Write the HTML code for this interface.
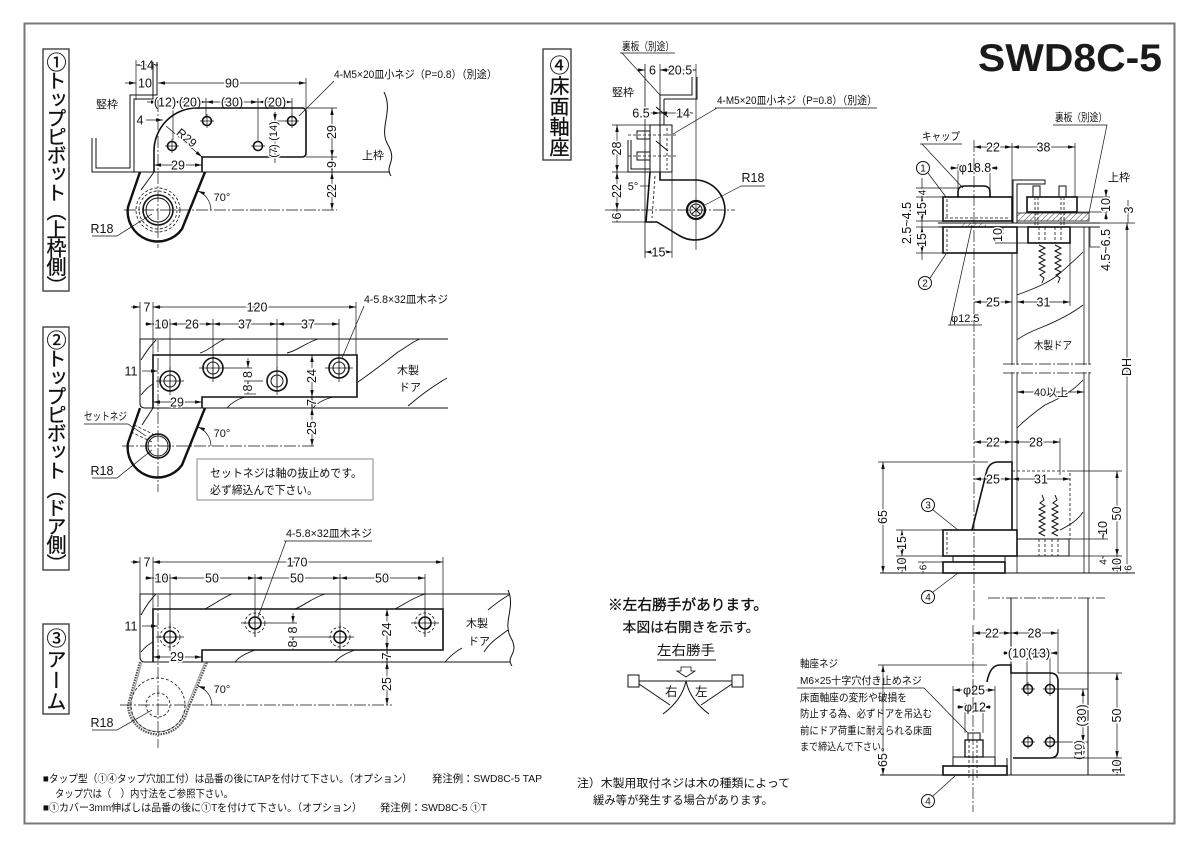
<!DOCTYPE html>
<html><head><meta charset="utf-8">
<style>
html,body{margin:0;padding:0;background:#fff;}
body{width:1200px;height:848px;position:relative;overflow:hidden;}
svg{position:absolute;left:0;top:0;}
.v{position:absolute;writing-mode:vertical-rl;font-family:"Noto Sans CJK JP","WenQuanYi Zen Hei",sans-serif;color:#111;font-size:20px;line-height:26px;text-align:start;white-space:nowrap;-webkit-text-stroke:0.3px #111;}
</style></head><body>
<svg width="1200" height="848" viewBox="0 0 1200 848" xmlns="http://www.w3.org/2000/svg">
<defs>
<marker id="a" viewBox="0 0 8 4" markerWidth="7" markerHeight="3.5" refX="8" refY="2" orient="auto-start-reverse" markerUnits="userSpaceOnUse"><path d="M0,0L8,2L0,4z" fill="#111"/></marker>
<pattern id="hp" width="4" height="4" patternUnits="userSpaceOnUse" patternTransform="rotate(45)"><line x1="0" y1="0" x2="0" y2="4" stroke="#111" stroke-width="0.8"/></pattern>
</defs>
<style>
.l{stroke:#111;stroke-width:1;fill:none}
.h{stroke:#111;stroke-width:1.6;fill:none}
.k{stroke:#111;stroke-width:2.4;fill:none}
.d{stroke:#111;stroke-width:.7;fill:none}
.c{stroke:#111;stroke-width:.7;fill:none;stroke-dasharray:12 2 2 2}
.s{stroke:#111;stroke-width:.8;fill:none;stroke-dasharray:3 2}
.b{marker-start:url(#a);marker-end:url(#a)}
.e{marker-end:url(#a)}
.n{font-family:"Liberation Sans Narrow","Liberation Sans",sans-serif;font-size:12.5px;fill:#111;stroke:#fff;stroke-width:3;paint-order:stroke;text-anchor:middle}
.j{font-family:"Liberation Sans","Noto Sans CJK JP",sans-serif;font-size:11px;fill:#111}
.jh{font-family:"Liberation Sans","Noto Sans CJK JP",sans-serif;font-size:11px;fill:#111;stroke:#fff;stroke-width:3;paint-order:stroke}
.cn{font-family:"Liberation Sans",sans-serif;font-size:10px;fill:#111;text-anchor:middle}
</style>

<!-- outer border -->
<rect x="24.5" y="23.5" width="1150" height="800" fill="none" stroke="#777" stroke-width="2"/>

<!-- side label boxes -->
<rect x="43" y="49" width="26" height="242" fill="none" stroke="#333" stroke-width="1.3"/>
<rect x="43" y="327" width="26" height="243" fill="none" stroke="#333" stroke-width="1.3"/>
<rect x="43" y="624" width="26" height="90" fill="none" stroke="#333" stroke-width="1.3"/>
<rect x="543" y="49" width="28" height="111" fill="none" stroke="#333" stroke-width="1.3"/>

<!-- title -->
<text x="978" y="71" font-family="Liberation Sans, sans-serif" font-weight="bold" font-size="39" textLength="184" lengthAdjust="spacingAndGlyphs" fill="#1a1a1a">SWD8C-5</text>

<!-- ================= SECTION 1 ================= -->
<g>
<path class="d" d="M136,60V100M306,78V108M173,98V140M206,98V118M258,98V142M292,98V118"/>
<path class="d b" d="M136,65H158"/><text class="n" x="147" y="69.5">14</text>
<path class="d e" d="M125,83H136"/><text class="n" x="145" y="87.5">10</text>
<path class="d b" d="M158,83H306"/><text class="n" x="232" y="87.5">90</text>
<path class="d e" d="M147,102H158"/>
<path class="d b" d="M173,102H206"/><path class="d b" d="M206,102H258"/><path class="d b" d="M258,102H292"/>
<text class="n" x="165" y="106.5">(12)</text><text class="n" x="190" y="106.5">(20)</text><text class="n" x="232" y="106.5">(30)</text><text class="n" x="275" y="106.5">(20)</text>
<path class="d e" d="M146,120H163"/><text class="n" x="140" y="124.5">4</text>
<text class="j" x="96" y="108" textLength="22" lengthAdjust="spacingAndGlyphs">竪枠</text>
<path class="l" d="M92,138V172H134V99H153V62"/>
<path class="l" d="M96,138V168H130V95H157V62"/>
<path class="l" d="M134,172H390"/>
<path class="d" d="M306,108H337M306,157H337"/>
<path class="l" d="M384,92C394,112 378,128 388,145S384,165 391,176"/>
<text class="j" x="362" y="159">上枠</text>
<path class="h" d="M154,172V151A43,43 0 0 1 197,108H302Q306,108 306,112V153Q306,157 302,157H202V172"/>
<circle cx="207" cy="121" r="4.5" class="h"/><circle cx="172" cy="146" r="4.5" class="h"/><circle cx="258" cy="146" r="4.5" class="h"/><circle cx="292" cy="121" r="4.5" class="h"/>
<path class="d" d="M200,121H214M207,114V128M165,146H179M172,139V153M251,146H265M292,114V128M285,121H299"/>
<path class="d" d="M275,112V163"/><path class="d e" d="M275,112V121"/><path class="d e" d="M275,160V146"/><path class="d" d="M271,121H286"/>
<text class="n" transform="translate(273,131)rotate(-90)" y="4" style="font-size:11px">(14)</text>
<text class="n" transform="translate(273,151)rotate(-90)" y="4" style="font-size:11px">(7)</text>
<path class="k" d="M140,172L128,207A30,30 0 0 0 182,229L205,172"/>
<path class="l" d="M154,172L141,190"/>
<circle cx="158" cy="210" r="15" class="h"/><circle cx="158" cy="210" r="12" class="l"/>
<circle cx="158" cy="210" r="22" class="s"/><circle cx="158" cy="210" r="19" class="s"/>
<path class="c" d="M158,100V248M124,210H337"/>
<path class="d b" d="M332,108V157"/><path class="d b" d="M332,157V172"/><path class="d b" d="M332,172V210"/>
<text class="n" transform="translate(332,132)rotate(-90)" y="4">29</text>
<text class="n" transform="translate(332,164.5)rotate(-90)" y="4">9</text>
<text class="n" transform="translate(332,191)rotate(-90)" y="4">22</text>
<path class="d b" d="M154,165H202"/><text class="n" x="178" y="169.5">29</text>
<path class="d e" d="M211,210A21,21 0 0 0 198,191"/><text class="n" x="222" y="201" style="font-size:11px">70°</text>
<path class="d e" d="M166,126L202,157"/>
<text class="n" transform="translate(184,141)rotate(40)" style="font-size:12px">R29</text>
<text class="n" x="102" y="233">R18</text>
<path class="d" d="M92,236H117L152,214"/>
<text class="j" x="334" y="78" textLength="163" lengthAdjust="spacingAndGlyphs">4-M5×20皿小ネジ（P=0.8）（別途）</text>
<path class="d" d="M334,81L299,116"/>
</g>

<!-- ================= SECTION 2 ================= -->
<g>
<path class="d" d="M140,302V339M153,302V355M356,302V355M170,319V392M213,319V378M277,319V392M339,319V378"/>
<path class="d e" d="M131,307H140"/><path class="d e" d="M162,307H153"/><text class="n" x="147" y="311.5">7</text>
<path class="d b" d="M153,307H356"/><text class="n" x="257" y="311.5">120</text>
<path class="d e" d="M145,324H153"/>
<path class="d b" d="M153,324H170"/><path class="d b" d="M170,324H213"/><path class="d b" d="M213,324H277"/><path class="d b" d="M277,324H339"/>
<text class="n" x="161.5" y="328.5">10</text><text class="n" x="192" y="328.5">26</text><text class="n" x="245" y="328.5">37</text><text class="n" x="308" y="328.5">37</text>
<path class="l" d="M448,339H140V403Q140,408 145,408H448"/>
<path class="l" style="stroke-width:.9" d="M141,360C146,352 150,346 156,340M200,353C210,350 215,343 225,339M287,353C297,351 305,343 318,339M358,382C372,372 388,360 398,352C408,346 412,342 420,339M408,406C420,396 430,388 447,378M227,408C232,402 238,399 245,397M313,408C318,402 325,399 333,397M141,395C145,390 149,386 153,384"/>
<path class="h" d="M153,408V355H357V397H202V408"/>
<circle cx="170" cy="381" r="10" class="h"/><circle cx="170" cy="381" r="6" class="l"/>
<circle cx="213" cy="368" r="10" class="h"/><circle cx="213" cy="368" r="6" class="l"/>
<circle cx="277" cy="381" r="10" class="h"/><circle cx="277" cy="381" r="6" class="l"/>
<circle cx="339" cy="368" r="10" class="h"/><circle cx="339" cy="368" r="6" class="l"/>
<path class="d" d="M156,381H184M170,367V395M199,368H252M213,354V382M263,381H244M277,367V395M325,368H353M339,354V382"/>
<path class="d e" d="M142,371H158"/><text class="n" x="131" y="375.5">11</text>
<path class="d e" d="M248,358V368"/><path class="d e" d="M248,394V381"/><path class="d" d="M244,394H256"/>
<text class="n" transform="translate(248,374.5)rotate(-90)" y="4">8</text>
<text class="n" transform="translate(248,388)rotate(-90)" y="4">8</text>
<path class="d b" d="M312,355V397"/><path class="d b" d="M312,397V408"/><path class="d b" d="M312,408V446"/>
<text class="n" transform="translate(312,376)rotate(-90)" y="4">24</text>
<text class="n" transform="translate(312,402.5)rotate(-90)" y="4">7</text>
<text class="n" transform="translate(312,428)rotate(-90)" y="4">25</text>
<path class="d b" d="M153,402H202"/><text class="n" x="177" y="406.5">29</text>
<path class="s" d="M153,408H202"/>
<path class="k" d="M140,408L128,443A30,30 0 0 0 182,465L205,408"/>
<path class="l" d="M153,408L142,425"/>
<circle cx="158" cy="446" r="12" class="h"/><circle cx="158" cy="446" r="10" class="l"/>
<path class="s" d="M131,432L152,442M134,425L155,435"/>
<path class="c" d="M158,340V492M122,446H316"/>
<path class="d e" d="M211,446A21,21 0 0 0 198,427"/><text class="n" x="222" y="437" style="font-size:11px">70°</text>
<text class="j" x="84" y="420" textLength="43" lengthAdjust="spacingAndGlyphs">セットネジ</text>
<path class="d" d="M84,424H128L146,436"/>
<text class="n" x="102" y="475">R18</text>
<path class="d" d="M92,478H117L152,450"/>
<rect x="197" y="459" width="176" height="41" fill="none" stroke="#888" stroke-width="1"/>
<text class="j" x="210" y="477" style="font-size:11.5px" textLength="152" lengthAdjust="spacingAndGlyphs">セットネジは軸の抜止めです。</text>
<text class="j" x="210" y="494" style="font-size:11.5px" textLength="108" lengthAdjust="spacingAndGlyphs">必ず締込んで下さい。</text>
<text class="j" x="364" y="303" textLength="84" lengthAdjust="spacingAndGlyphs">4-5.8×32皿木ネジ</text>
<path class="d" d="M364,306L342,358"/>
<text class="j" x="397" y="374">木製</text>
<text class="j" x="399" y="391">ドア</text>
</g>

<!-- ================= SECTION 3 ================= -->
<g>
<path class="d" d="M140,557V594M153,557V609M443,557V609M170,574V651M255,574V637M340,574V651M425,574V637"/>
<path class="d e" d="M131,562H140"/><path class="d e" d="M162,562H153"/><text class="n" x="147" y="566.5">7</text>
<path class="d b" d="M153,562H443"/><text class="n" x="297" y="566.5">170</text>
<path class="d e" d="M145,578H153"/>
<path class="d b" d="M153,578H170"/><path class="d b" d="M170,578H255"/><path class="d b" d="M255,578H340"/><path class="d b" d="M340,578H425"/>
<text class="n" x="161.5" y="582.5">10</text><text class="n" x="212" y="582.5">50</text><text class="n" x="297" y="582.5">50</text><text class="n" x="382" y="582.5">50</text>
<path class="l" d="M510,594H140V657Q140,662 145,662H510"/>
<path class="l" d="M508,590C516,608 502,622 511,638S505,656 512,666"/>
<path class="l" style="stroke-width:.9" d="M141,615C146,606 150,600 156,594M205,609C215,604 222,598 232,594M295,609C305,605 312,598 325,594M395,609C405,604 412,598 425,594M488,610C495,604 502,599 509,595M235,662C240,656 247,653 255,650M335,662C340,656 347,653 355,650M445,662C450,656 455,652 462,648M484,652C490,642 500,636 508,630M141,652C145,647 149,644 153,642"/>
<path class="h" d="M153,662V609H443V650H202V662"/>
<circle cx="170" cy="637" r="10" class="s"/><circle cx="170" cy="637" r="6" class="h"/>
<circle cx="255" cy="623" r="10" class="s"/><circle cx="255" cy="623" r="6" class="h"/>
<circle cx="340" cy="637" r="10" class="s"/><circle cx="340" cy="637" r="6" class="h"/>
<circle cx="425" cy="623" r="10" class="s"/><circle cx="425" cy="623" r="6" class="h"/>
<path class="d" d="M156,637H184M170,623V651M241,623H297M255,609V637M354,637H289M340,623V651M411,623H439M425,609V637"/>
<path class="d e" d="M142,626H158"/><text class="n" x="131" y="630.5">11</text>
<path class="d e" d="M293,613V623"/><path class="d e" d="M293,650V637"/>
<text class="n" transform="translate(293,630)rotate(-90)" y="4">8</text>
<text class="n" transform="translate(293,644)rotate(-90)" y="4">8</text>
<path class="d b" d="M387,609V650"/><path class="d b" d="M387,650V662"/><path class="d b" d="M387,662V705"/>
<text class="n" transform="translate(387,629.5)rotate(-90)" y="4">24</text>
<text class="n" transform="translate(387,656)rotate(-90)" y="4">7</text>
<text class="n" transform="translate(387,684)rotate(-90)" y="4">25</text>
<path class="d b" d="M153,657H202"/><text class="n" x="177" y="661">29</text>
<path d="M140,662L128,705A30,30 0 0 0 187,712L207,662" stroke="#555" stroke-width="2.2" stroke-dasharray="1.6 1" fill="none"/>
<path d="M142,662L130,705A28,28 0 0 0 185,711L205,662" stroke="#999" stroke-width="1" fill="none"/>
<circle cx="158" cy="705" r="27" class="s"/><circle cx="158" cy="705" r="12" class="s"/>
<path class="c" d="M158,595V748M120,705H392"/>
<path class="d e" d="M212,705A21,21 0 0 0 198,686"/><text class="n" x="222" y="693" style="font-size:11px">70°</text>
<text class="n" x="102" y="727">R18</text>
<path class="d" d="M92,730H117L152,710"/>
<text class="j" x="286" y="537" textLength="86" lengthAdjust="spacingAndGlyphs">4-5.8×32皿木ネジ</text>
<path class="d" d="M284,541H372M286,541L258,617"/>
<text class="j" x="466" y="627">木製</text>
<text class="j" x="468" y="645">ドア</text>
</g>

<!-- bottom notes -->
<text class="j" x="43" y="782" style="font-size:10.5px" textLength="369" lengthAdjust="spacingAndGlyphs">■タップ型（①④タップ穴加工付）は品番の後にTAPを付けて下さい。（オプション）</text>
<text class="j" x="432" y="782" style="font-size:10.5px" textLength="110" lengthAdjust="spacingAndGlyphs">発注例：SWD8C-5 TAP</text>
<text class="j" x="55" y="797" style="font-size:10.5px" textLength="178" lengthAdjust="spacingAndGlyphs">タップ穴は（　）内寸法をご参照下さい。</text>
<text class="j" x="43" y="811" style="font-size:10.5px" textLength="319" lengthAdjust="spacingAndGlyphs">■①カバー3mm伸ばしは品番の後に①Tを付けて下さい。（オプション）</text>
<text class="j" x="380" y="811" style="font-size:10.5px" textLength="107" lengthAdjust="spacingAndGlyphs">発注例：SWD8C-5 ①T</text>

<!-- ================= SECTION 4 ================= -->
<g>
<text class="j" x="622" y="50" textLength="52" lengthAdjust="spacingAndGlyphs">裏板（別途）</text>
<path class="d" d="M620,53H675M622,53L660,95"/>
<path class="l" style="stroke-width:.8" d="M645,64V258"/>
<path class="d" d="M660,64V95M696,64V250"/>
<path class="d e" d="M637,70H645"/><path class="d e" d="M668,70H660"/><text class="n" x="652.5" y="74.5">6</text>
<path class="d b" d="M660,70H696"/><text class="n" x="680" y="74.5">20.5</text>
<text class="j" x="612" y="96" textLength="22" lengthAdjust="spacingAndGlyphs">竪枠</text>
<path class="l" d="M660,95H692V77M664,99H697V77"/>
<path class="l" d="M660,95V172M664,99V125"/>
<rect x="650" y="125" width="22" height="47" class="l"/>
<rect x="637" y="131" width="13" height="8" class="l"/><rect x="637" y="152" width="13" height="8" class="l"/>
<path class="s" d="M628,135H678M628,156H678M667,128V170"/>
<path class="l" d="M656,107L668,117M656,141L668,151"/>
<path class="l" d="M628,140V172H650M631,140V169H650"/>
<path class="d e" d="M649,113H660"/><text class="n" x="641" y="117.5">6.5</text>
<path class="d b" d="M660,113H693"/><text class="n" x="683" y="117.5">14</text>
<path class="d" d="M612,125H650M612,172H628M612,210H640M612,222H647"/>
<path class="d b" d="M617,125V172"/><path class="d b" d="M617,172V210"/><path class="d b" d="M617,210V222"/>
<text class="n" transform="translate(617,148.5)rotate(-90)" y="4">28</text>
<text class="n" transform="translate(617,191)rotate(-90)" y="4">22</text>
<text class="n" transform="translate(617,216)rotate(-90)" y="4">6</text>
<path class="h" d="M650,172L646,222H657L680,236A30,30 0 1 0 696,180H660V172"/>
<path class="s" d="M655,176L652,218"/>
<circle cx="696" cy="210" r="9" class="k" style="stroke-width:2.2"/><circle cx="696" cy="210" r="6" class="l"/>
<path class="l" d="M692,206L700,214M700,206L692,214"/>
<path class="c" d="M605,210H735"/>
<path class="d" d="M672,172V258"/>
<path class="d b" d="M645,252H672"/><text class="n" x="658.5" y="256.5">15</text>
<text class="n" x="753" y="182">R18</text>
<path class="d" d="M741,186H765M741,186L705,205"/>
<text class="n" x="633" y="190" style="font-size:11px">5°</text>
<path class="d" d="M640,186L650,186"/>
<text class="j" x="717" y="104" textLength="160" lengthAdjust="spacingAndGlyphs">4-M5×20皿小ネジ（P=0.8）（別途）</text>
<path class="d" d="M715,108H877M717,108L673,134"/>
</g>

<!-- ================= RIGHT TOP ================= -->
<g>
<text class="j" x="1055" y="121" textLength="52" lengthAdjust="spacingAndGlyphs">裏板（別途）</text>
<path class="d" d="M1053,125H1107L1089,213"/>
<text class="j" x="922" y="140" textLength="38" lengthAdjust="spacingAndGlyphs">キャップ</text>
<path class="d" d="M920,144H962M922,144L963,188"/>
<circle cx="923" cy="168" r="6.5" class="l"/><text class="cn" x="923" y="171.5">1</text>
<path class="d" d="M928,173L946,197"/>
<path class="d" d="M1012,143V223M1075,143V197"/>
<path class="d b" d="M974,147H1012"/><text class="n" x="993" y="151.5">22</text>
<path class="d b" d="M1012,147H1075"/><text class="n" x="1043.5" y="151.5">38</text>
<path class="d" d="M958,164V192M990,164V192"/>
<path class="d e" d="M950,168H958"/><path class="d e" d="M998,168H990"/>
<text class="n" x="975" y="172">φ18.8</text>
<path class="h" d="M958,197V192Q958,186 965,186H983Q990,186 990,192V197"/>
<rect x="943" y="197" width="69" height="24" class="h"/>
<path class="s" d="M947,199V219M945,218H1010"/>
<path class="l" d="M1013,223V180H1045V184H1017V223"/>
<rect x="1027" y="197" width="50" height="15" class="h"/>
<rect x="1033" y="186" width="7" height="11" class="l"/><rect x="1059" y="186" width="7" height="11" class="l"/>
<path class="s" d="M1035,197V227M1038,197V227M1061,197V227M1064,197V227"/>
<rect x="1017" y="213" width="72" height="8" fill="url(#hp)" stroke="#111" stroke-width=".8"/>
<rect x="962" y="223" width="24" height="4" fill="url(#hp)" stroke="none"/>
<path class="l" d="M938,223H1100M938,227H1100"/>
<rect x="943" y="227" width="74" height="26" class="h"/>
<path class="s" d="M947,229V251"/>
<rect x="1028" y="227" width="42" height="16" class="h"/>
<path class="s" d="M1039,227V243M1045,227V243M1055,227V243M1061,227V243"/>
<path class="l" d="M1039,245L1045,248L1039,251L1045,254L1039,257L1045,260L1039,263L1045,266L1039,269L1045,272L1040,275L1044,278L1042,283M1055,245L1061,248L1055,251L1061,254L1055,257L1061,260L1055,263L1061,266L1055,269L1061,272L1056,275L1060,278L1058,283"/>
<path class="l" style="stroke-width:.8" d="M1012,253V530M1017,253V573M1084,227V573M1089,227V573"/>
<path class="l" style="stroke-width:.8" d="M1083,252C1075,260 1068,266 1058,275C1045,285 1030,290 1017,295M1083,305C1070,315 1055,322 1040,328C1030,332 1022,336 1017,340M1083,380C1072,392 1060,398 1045,405C1035,412 1025,420 1017,428M1083,512C1078,520 1070,525 1060,530"/>
<rect x="998" y="365" width="100" height="7" fill="#fff"/>
<path class="c" d="M1003,364H1093M1003,373H1093"/>
<path class="d" d="M916,188H958M916,197H943M916,221H943M916,227H943M916,253H943"/>
<path class="d" d="M922,178V260"/>
<path class="d b" d="M922,197V221"/><path class="d b" d="M922,227V253"/>
<text class="n" transform="translate(922,192.5)rotate(-90)" y="3.5" style="font-size:10px">4</text>
<text class="n" transform="translate(922,209)rotate(-90)" y="4">15</text>
<text class="n" transform="translate(922,240)rotate(-90)" y="4">15</text>
<text class="n" transform="translate(907,223)rotate(-90)" y="4">2.5~4.5</text>
<path class="d" d="M1003,227V243M995,243H1028"/>
<text class="n" transform="translate(998,235)rotate(-90)" y="4">10</text>
<path class="d" d="M1077,197H1110M1077,212H1110"/>
<path class="d e" d="M1106,189V197"/><path class="d e" d="M1106,220V212"/>
<text class="n" transform="translate(1106,205)rotate(-90)" y="4">10</text>
<path class="d" d="M1090,227V247H1100"/>
<text class="n" transform="translate(1106,250)rotate(-90)" y="4">4.5~6.5</text>
<path class="d" d="M1128,200V223M1100,223H1135"/>
<text class="n" transform="translate(1129,210)rotate(-90)" y="4">3</text>
<path class="d b" d="M1127,223V573"/>
<text class="n" transform="translate(1127,367)rotate(-90)" y="4">DH</text>
<circle cx="925" cy="283" r="6.5" class="l"/><text class="cn" x="925" y="286.5">2</text>
<path class="d" d="M930,278L946,254"/>
<path class="d" d="M1070,243V306"/>
<path class="d b" d="M974,302H1012"/><text class="n" x="993" y="306.5">25</text>
<path class="d b" d="M1017,302H1070"/><text class="n" x="1043.5" y="306.5">31</text>
<text class="j" x="951" y="322">φ12.5</text>
<path class="d" d="M948,325H982M950,325L972,225"/>
<path class="c" d="M974,140V620"/>
<text class="j" x="1108" y="181">上枠</text>
</g>

<!-- ================= RIGHT MIDDLE ================= -->
<g>
<text class="j" x="1034" y="349" textLength="38" lengthAdjust="spacingAndGlyphs">木製ドア</text>
<path class="d b" d="M1017,392H1084"/>
<text class="jh" x="1034" y="396" textLength="34" lengthAdjust="spacingAndGlyphs">40以上</text>
<path class="d" d="M1060,438V475"/>
<path class="d b" d="M974,442H1012"/><text class="n" x="993" y="446.5">22</text>
<path class="d b" d="M1012,442H1060"/><text class="n" x="1036" y="446.5">28</text>
<path class="h" d="M972,530L987,470Q990,462 998,462H1012V530"/>
<path class="d" d="M878,462H988"/>
<path class="s" d="M1012,471H1070V539"/>
<path class="d b" d="M974,479H1012"/><text class="n" x="993" y="483.5">25</text>
<path class="d b" d="M1012,479H1070"/><text class="n" x="1041" y="483.5">31</text>
<path class="d b" d="M883,462V573"/>
<text class="n" transform="translate(883,517)rotate(-90)" y="4">65</text>
<circle cx="928" cy="505" r="6.5" class="l"/><text class="cn" x="928" y="508.5">3</text>
<path class="d" d="M933,510L958,530"/>
<rect x="943" y="530" width="74" height="26" class="h"/>
<path class="s" d="M947,532V554"/>
<rect x="953" y="556" width="52" height="6" class="l"/>
<rect x="943" y="562" width="62" height="11" class="h"/>
<rect x="1017" y="539" width="52" height="17" class="l"/>
<path class="s" d="M1039,539V556M1045,539V556M1052,539V556M1058,539V556"/>
<path class="l" d="M1042,495L1044,500L1040,503L1045,506L1039,509L1045,512L1039,515L1045,518L1039,521L1045,524L1039,527L1045,530L1039,533L1045,536M1055,495L1057,500L1053,503L1058,506L1052,509L1058,512L1052,515L1058,518L1052,521L1058,524L1052,527L1058,530L1052,533L1058,536"/>
<path class="d" d="M896,530H943M896,556H943M896,573H943M918,562H953"/>
<path class="d b" d="M902,530V556"/><path class="d b" d="M902,556V573"/><path class="d b" d="M923,562V573"/>
<text class="n" transform="translate(902,543)rotate(-90)" y="4">15</text>
<text class="n" transform="translate(902,564.5)rotate(-90)" y="4">10</text>
<text class="n" transform="translate(923,567.5)rotate(-90)" y="3.5" style="font-size:10px">6</text>
<path class="d" d="M1070,471H1122M1069,556H1122M1069,539H1108M1089,573H1135"/>
<path class="d b" d="M1117,471V556"/>
<text class="n" transform="translate(1117,513.5)rotate(-90)" y="4">50</text>
<path class="d e" d="M1103,530V539"/><path class="d e" d="M1103,565V556"/>
<text class="n" transform="translate(1103,528)rotate(-90)" y="4">10</text>
<text class="n" transform="translate(1103,562)rotate(-90)" y="3.5" style="font-size:10px">4</text>
<path class="d b" d="M1117,556V573"/>
<text class="n" transform="translate(1117,565)rotate(-90)" y="4">10</text>
<text class="n" transform="translate(1128,568)rotate(-90)" y="3.5" style="font-size:10px">6</text>
<circle cx="928" cy="597" r="6.5" class="l"/><text class="cn" x="928" y="600.5">4</text>
<path class="d" d="M933,592L958,573"/>
<path class="l" d="M880,573H1135"/>
</g>

<!-- ================= RIGHT BOTTOM ================= -->
<g>
<path class="c" d="M988,598H1105"/>
<path class="l" d="M1011,598V665M1088,598V775"/>
<path class="d" d="M1058,629V673"/>
<path class="d b" d="M973,633H1011"/><text class="n" x="992" y="637.5">22</text>
<path class="d b" d="M1011,633H1058"/><text class="n" x="1034.5" y="637.5">28</text>
<path class="d" d="M1027,649V689M1050,649V689"/>
<path class="d e" d="M1003,653H1011"/><path class="d b" d="M1027,653H1050"/><path class="d e" d="M1058,653H1050"/>
<text class="n" x="1019" y="657.5">(10)</text><text class="n" x="1039" y="657.5">(13)</text>
<path class="h" d="M987,682Q990,665 1000,665H1011V673H1050Q1058,673 1058,681V750Q1058,758 1050,758H1013"/>
<path class="l" d="M1011,673V775M1007,758V775"/>
<circle cx="1028" cy="689" r="4.5" class="h"/><circle cx="1050" cy="689" r="4.5" class="h"/><circle cx="1028" cy="742" r="4.5" class="h"/><circle cx="1050" cy="742" r="4.5" class="h"/>
<path class="d" d="M1021,689H1035M1028,682V696M1043,689H1057M1050,682V696M1021,742H1035M1028,735V749M1043,742H1057M1050,735V749"/>
<path class="d" d="M1050,689H1088M1050,742H1088"/>
<path class="d b" d="M1083,689V742"/><path class="d b" d="M1083,742V758"/>
<text class="n" transform="translate(1082,715.5)rotate(-90)" y="4">(30)</text>
<text class="n" transform="translate(1078,750)rotate(-90)" y="4" style="font-size:11px">(10)</text>
<path class="d" d="M1058,673H1122M1050,758H1122M1088,775H1122"/>
<path class="d b" d="M1117,673V758"/><path class="d b" d="M1117,758V775"/>
<text class="n" transform="translate(1117,715.5)rotate(-90)" y="4">50</text>
<text class="n" transform="translate(1117,766.5)rotate(-90)" y="4">10</text>
<rect x="953" y="757" width="42" height="9" class="l"/>
<rect x="943" y="766" width="64" height="9" class="h"/>
<rect x="965" y="740" width="18" height="17" class="l" style="stroke-width:1.3"/>
<rect x="968" y="733" width="12" height="7" class="l"/>
<path class="s" d="M969,740V780M977,740V780"/>
<path class="d" d="M953,686V757M995,686V757"/>
<path class="d b" d="M953,690H995"/><text class="n" x="974" y="694.5">φ25</text>
<path class="d" d="M965,703V733M983,703V733"/>
<path class="d e" d="M957,707H965"/><path class="d e" d="M991,707H983"/>
<text class="n" x="975" y="711.5">φ12</text>
<path class="c" d="M973,625V812"/>
<path class="d" d="M878,665H987"/>
<path class="d b" d="M883,665V775"/>
<text class="n" transform="translate(883,760)rotate(-90)" y="4">65</text>
<path class="l" d="M880,775H1125"/>
<circle cx="928" cy="801" r="6.5" class="l"/><text class="cn" x="928" y="804.5">4</text>
<path class="d" d="M933,796L955,776"/>
<text class="j" x="800" y="667" style="font-size:10.5px" textLength="38" lengthAdjust="spacingAndGlyphs">軸座ネジ</text>
<text class="j" x="800" y="684" style="font-size:10.5px" textLength="122" lengthAdjust="spacingAndGlyphs">M6×25十字穴付き止めネジ</text>
<path class="d" d="M797,688H924L968,733"/>
<text class="j" x="800" y="701" style="font-size:10.5px" textLength="107" lengthAdjust="spacingAndGlyphs">床面軸座の変形や破損を</text>
<text class="j" x="800" y="717" style="font-size:10.5px" textLength="132" lengthAdjust="spacingAndGlyphs">防止する為、必ずドアを吊込む</text>
<text class="j" x="800" y="734" style="font-size:10.5px" textLength="132" lengthAdjust="spacingAndGlyphs">前にドア荷重に耐えられる床面</text>
<text class="j" x="800" y="750" style="font-size:10.5px" textLength="90" lengthAdjust="spacingAndGlyphs">まで締込んで下さい。</text>
</g>

<!-- ================= MIDDLE NOTES ================= -->
<g>
<text class="j" x="688" y="610" text-anchor="middle" style="font-size:14.5px;stroke:#111;stroke-width:.35" textLength="160" lengthAdjust="spacingAndGlyphs">※左右勝手があります。</text>
<text class="j" x="691" y="632" text-anchor="middle" style="font-size:13.5px;stroke:#111;stroke-width:.2" textLength="137" lengthAdjust="spacingAndGlyphs">本図は右開きを示す。</text>
<text class="j" x="686" y="655" text-anchor="middle" style="font-size:13.5px" textLength="58" lengthAdjust="spacingAndGlyphs">左右勝手</text>
<path class="l" d="M657,660H716"/>
<polygon points="681,667 691,667 691,671 695,671 686,677 677,671 681,671" fill="none" stroke="#111" stroke-width=".8"/>
<rect x="628" y="675" width="11" height="12" class="l"/>
<rect x="732" y="675" width="11" height="12" class="l"/>
<path class="l" d="M639,681H732M639,684L670,705M732,684L701,705"/>
<path class="l" d="M686,681Q682,700 663,714M686,681Q690,700 709,714"/>
<text class="j" x="665" y="696" style="font-size:12.5px">右</text>
<text class="j" x="695" y="696" style="font-size:12.5px">左</text>
<text class="j" x="577" y="787" style="font-size:11.5px" textLength="213" lengthAdjust="spacingAndGlyphs">注）木製用取付ネジは木の種類によって</text>
<text class="j" x="593" y="804" style="font-size:11.5px" textLength="180" lengthAdjust="spacingAndGlyphs">緩み等が発生する場合があります。</text>
</g>
</svg>

<div class="v" style="left:43px;top:52px;width:26px;height:242px;letter-spacing:-1.4px;">①トップピボット（上枠側）</div>
<div class="v" style="left:43px;top:330px;width:26px;height:243px;letter-spacing:-1.4px;">②トップピボット（ドア側）</div>
<div class="v" style="left:43px;top:628px;width:26px;height:90px;letter-spacing:1px;">③アーム</div>
<div class="v" style="left:544px;top:55px;width:28px;height:110px;letter-spacing:0.5px;">④床面軸座</div>
</body></html>
